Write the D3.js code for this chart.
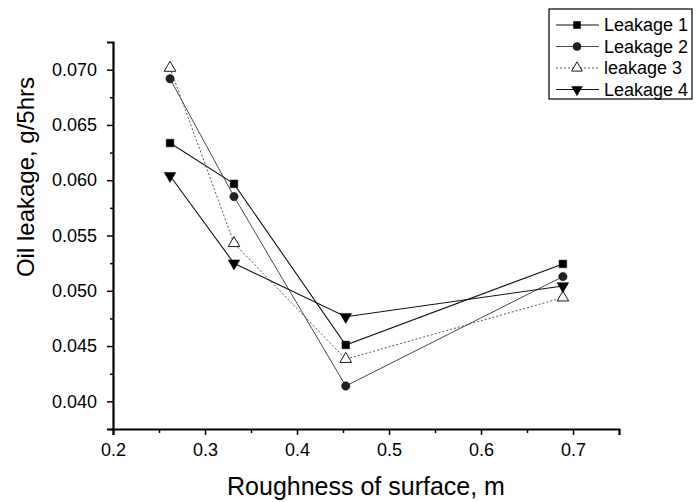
<!DOCTYPE html>
<html>
<head>
<meta charset="utf-8">
<script src="https://cdn.jsdelivr.net/npm/d3@7"></script>
<style>
  body { margin: 0; background: #fff; }
  svg { font-family: Arial, "Liberation Sans", sans-serif; }
  .axis text { font-size: 18px; fill: #000; }
  .axis .domain { stroke-width: 2.2px; }
  .axis .tick line { stroke-width: 1.5px; }
</style>
</head>
<body>
<svg id="chart" width="696" height="502"></svg>
<script>
const roughness = [0.262, 0.3315, 0.453, 0.689];
const leakage1 = [0.06336, 0.05967, 0.04510, 0.05243];
const leakage2 = [0.06918, 0.05852, 0.04139, 0.05128];
const leakage3 = [0.07015, 0.05430, 0.04382, 0.04938];
const leakage4 = [0.06040, 0.05249, 0.04765, 0.05043];
const seriesNames = ["Leakage 1", "Leakage 2", "leakage 3", "Leakage 4"];
const xTicks = [0.2, 0.3, 0.4, 0.5, 0.6, 0.7];
const yTicks = [0.040, 0.045, 0.050, 0.055, 0.060, 0.065, 0.070];

const series = [
  { name: seriesNames[0], values: leakage1, symbol: d3.symbolSquare, fill: "#000", dash: null, stroke: "#111", width: 1.1 },
  { name: seriesNames[1], values: leakage2, symbol: d3.symbolCircle, fill: "#222", dash: null, stroke: "#333", width: 0.9 },
  { name: seriesNames[2], values: leakage3, symbol: d3.symbolTriangle, fill: "#fff", dash: "2,2", stroke: "#444", width: 0.9 },
  { name: seriesNames[3], values: leakage4, symbol: "down", fill: "#000", dash: null, stroke: "#111", width: 1.1 },
];

const M = { left: 113, right: 696 - 619, top: 42, bottom: 502 - 429 };
const W = 696 - M.left - M.right;
const H = 502 - M.top - M.bottom;

const svg = d3.select("#chart");
const g = svg.append("g").attr("transform", `translate(${M.left},${M.top})`);

const x = d3.scaleLinear().domain([0.2, 0.75]).range([0, W]);
const y = d3.scaleLinear().domain([0.0375, 0.0725]).range([H, 0]);

// minor ticks
g.append("g")
  .attr("class", "axis")
  .attr("transform", `translate(0,${H})`)
  .call(d3.axisBottom(x).tickValues(d3.range(0.25, 0.75, 0.1)).tickSize(4).tickFormat(""))
  .call(a => a.select(".domain").remove());
g.append("g")
  .attr("class", "axis")
  .call(d3.axisLeft(y).tickValues(d3.range(0.0375, 0.0725, 0.005)).tickSize(3).tickFormat(""))
  .call(a => a.select(".domain").remove());

g.append("g")
  .attr("class", "axis")
  .attr("transform", `translate(0,${H})`)
  .call(d3.axisBottom(x).tickValues(xTicks).tickSize(6).tickPadding(8).tickFormat(d3.format(".1f")))
  .attr("font-size", 18);
g.append("g")
  .attr("class", "axis")
  .call(d3.axisLeft(y).tickValues(yTicks).tickSize(6).tickPadding(10).tickFormat(d3.format(".3f")))
  .attr("font-size", 18);

function sym(s, size) {
  if (s === "down") return d3.symbol(d3.symbolTriangle, size)();
  return d3.symbol(s, size)();
}

const line = d3.line().x((d, i) => x(roughness[i])).y(d => y(d));

series.forEach(s => {
  g.append("path")
    .attr("d", line(s.values))
    .attr("fill", "none")
    .attr("stroke", s.stroke)
    .attr("stroke-width", s.width)
    .attr("stroke-dasharray", s.dash);
  g.selectAll(null).data(s.values).enter().append("path")
    .attr("d", sym(s.symbol, s.symbol === d3.symbolCircle ? 55 : 58))
    .attr("transform", (d, i) => `translate(${x(roughness[i])},${y(d)})` + (s.symbol === "down" ? " rotate(180)" : ""))
    .attr("fill", s.fill)
    .attr("stroke", "#000")
    .attr("stroke-width", s.fill === "#fff" ? 0.9 : 0.5);
});

// axis titles
svg.append("text")
  .attr("x", 366)
  .attr("y", 495)
  .attr("text-anchor", "middle")
  .style("font-size", "25px")
  .text("Roughness of surface, m");
svg.append("text")
  .attr("transform", `translate(34,177) rotate(-90)`)
  .attr("text-anchor", "middle")
  .style("font-size", "24px")
  .text("Oil leakage, g/5hrs");

// legend
const leg = svg.append("g").attr("transform", "translate(549,9)");
leg.append("rect").attr("width", 143).attr("height", 90)
  .attr("fill", "#fff").attr("stroke", "#000").attr("stroke-width", 1.2);
series.forEach((s, i) => {
  const ly = 16 + i * 21.5;
  leg.append("line").attr("x1", 7).attr("x2", 50).attr("y1", ly).attr("y2", ly)
    .attr("stroke", s.stroke).attr("stroke-width", s.width).attr("stroke-dasharray", s.dash);
  leg.append("path")
    .attr("d", sym(s.symbol, 50))
    .attr("transform", `translate(28,${ly})` + (s.symbol === "down" ? " rotate(180)" : ""))
    .attr("fill", s.fill).attr("stroke", "#000").attr("stroke-width", s.fill === "#fff" ? 0.9 : 0.5);
  leg.append("text").attr("x", 55).attr("y", ly + 6).style("font-size", "18px").text(s.name);
});
</script>
</body>
</html>
